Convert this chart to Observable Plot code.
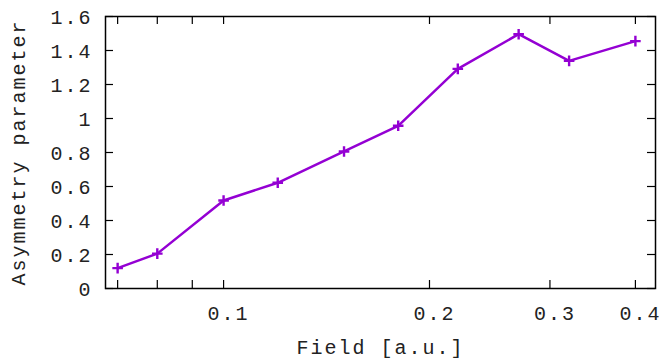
<!DOCTYPE html>
<html>
<head>
<meta charset="utf-8">
<script src="https://cdn.jsdelivr.net/npm/d3@7"></script>
<script src="https://cdn.jsdelivr.net/npm/@observablehq/plot@0.6"></script>
<style>
  html, body { margin: 0; padding: 0; background: #fff; }
  #chart svg { display: block; }
</style>
</head>
<body>
<div id="chart"></div>
<script>
// Data
const field = [0.07, 0.08, 0.1, 0.12, 0.15, 0.18, 0.22, 0.27, 0.32, 0.4];
const asymmetry = [0.12, 0.205, 0.518, 0.622, 0.806, 0.957, 1.292, 1.496, 1.339, 1.455];

// Tick values
const xTicks = [0.07, 0.08, 0.09, 0.1, 0.2, 0.3, 0.4];
const xTickLabels = [0.1, 0.2, 0.3, 0.4];
const yTicks = [0, 0.2, 0.4, 0.6, 0.8, 1, 1.2, 1.4, 1.6];

const xLabel = "Field [a.u.]";
const yLabel = "Asymmetry parameter";

const data = field.map((f, i) => ({field: f, asym: asymmetry[i]}));

const W = 661, H = 359;
const mL = 105, mR = 6, mT = 16, mB = 71;
const innerW = W - mL - mR, innerH = H - mT - mB;
const tickLen = 8;
const color = "#9400d3";

const chart = Plot.plot({
  width: W,
  height: H,
  marginLeft: mL,
  marginRight: mR,
  marginTop: mT,
  marginBottom: mB,
  style: {
    fontFamily: "'Liberation Mono', 'DejaVu Sans Mono', monospace",
    fontSize: "20px",
    color: "#222",
    letterSpacing: "2px",
    background: "#fff",
    overflow: "visible"
  },
  x: {type: "log", domain: [0.0672, 0.428]},
  y: {domain: [0, 1.6]},
  marks: [
    // tick labels
    Plot.axisX(xTickLabels, {tickSize: 0, tickPadding: 17, dx: 5, tickFormat: d => String(d), label: null, fill: "#222"}),
    Plot.axisY(yTicks, {tickSize: 0, tickPadding: 13, dy: 1.5, tickFormat: d => String(d), label: null, fill: "#222"}),
    // inward ticks (bottom/top/left/right)
    Plot.tickX(xTicks, {x: d => d, insetTop: innerH - tickLen, stroke: "#000", strokeWidth: 1.2}),
    Plot.tickX(xTicks, {x: d => d, insetBottom: innerH - tickLen, stroke: "#000", strokeWidth: 1.2}),
    Plot.tickY(yTicks, {y: d => d, insetRight: innerW - tickLen, stroke: "#000", strokeWidth: 1.2}),
    Plot.tickY(yTicks, {y: d => d, insetLeft: innerW - tickLen, stroke: "#000", strokeWidth: 1.2}),
    // axis titles
    Plot.text([xLabel], {frameAnchor: "bottom", textAnchor: "middle", dy: 59, lineAnchor: "middle", fill: "#222"}),
    Plot.text([yLabel], {frameAnchor: "left", textAnchor: "middle", dx: -87, rotate: -90, lineAnchor: "middle", fill: "#222"}),
    // data
    Plot.line(data, {x: "field", y: "asym", stroke: color, strokeWidth: 2.5}),
    Plot.dot(data, {x: "field", y: "asym", symbol: "plus", r: 3.5, stroke: color, strokeWidth: 2.4}),
    Plot.frame({stroke: "#000", strokeWidth: 1.5})
  ]
});

document.getElementById("chart").appendChild(chart);
</script>
</body>
</html>
